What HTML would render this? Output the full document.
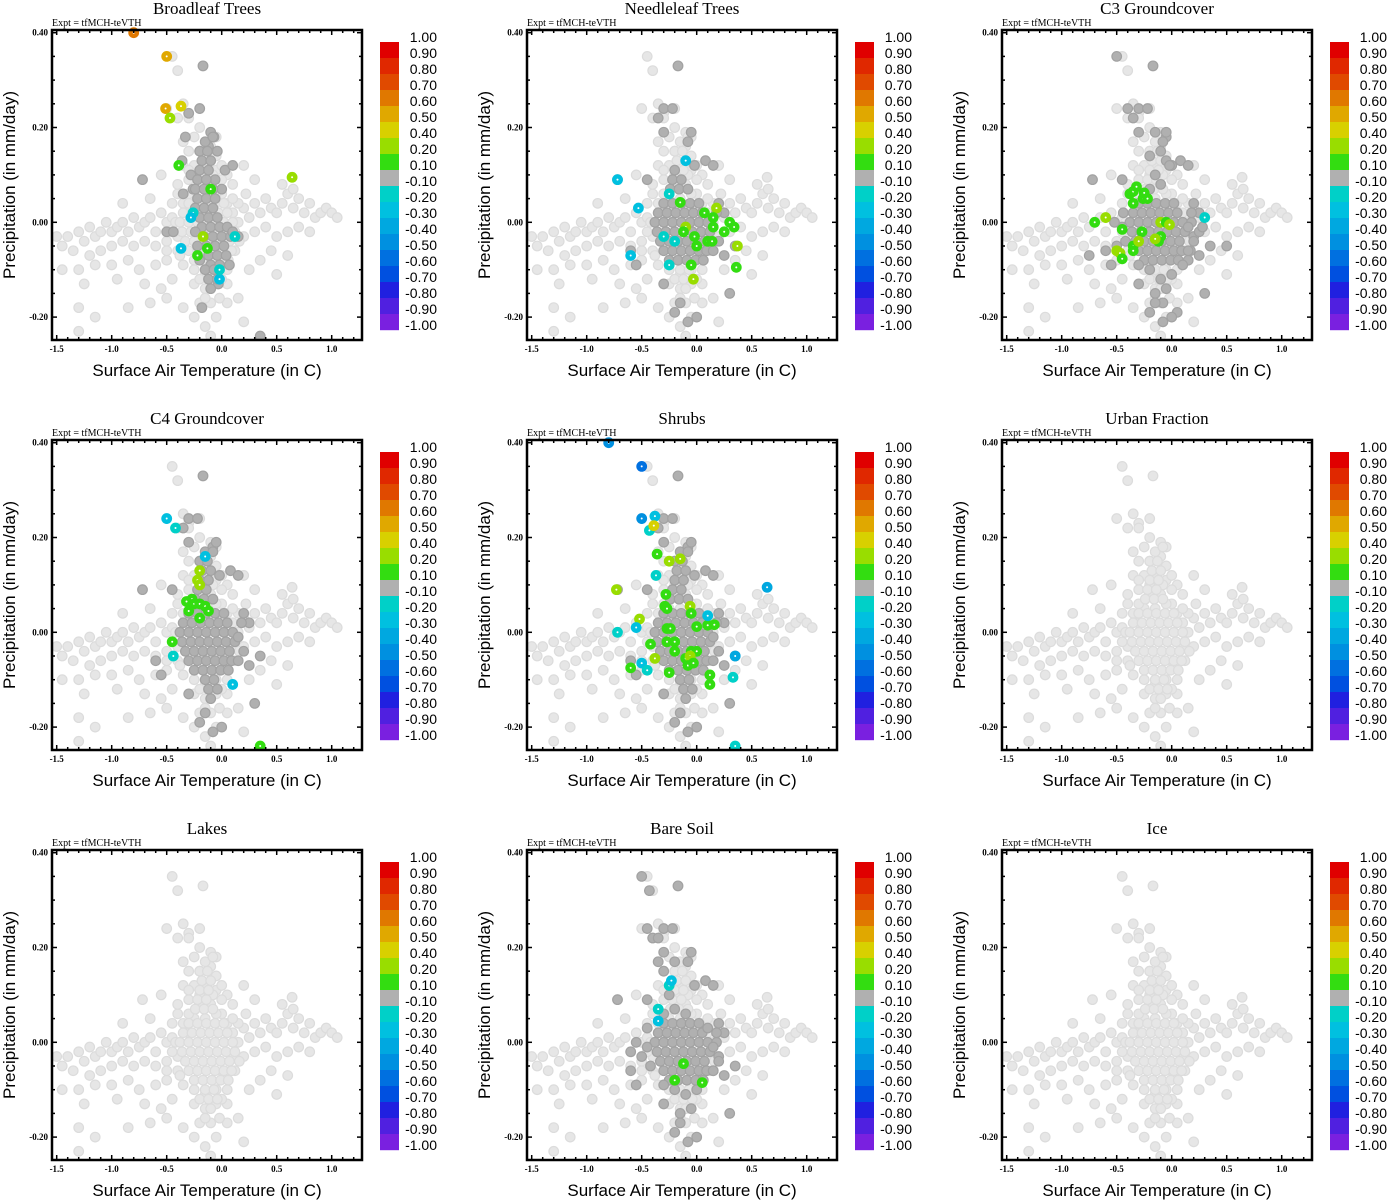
<!DOCTYPE html>
<html><head><meta charset="utf-8">
<style>
html,body{margin:0;padding:0;background:#fff;}
svg{display:block;}
.t{font-family:"Liberation Serif",serif;}
.s{font-family:"Liberation Sans",sans-serif;}
</style></head>
<body>
<svg id="chart" width="1388" height="1200" xmlns="http://www.w3.org/2000/svg"></svg>
<script>
// ---------- data ----------
const panelTitles = ["Broadleaf Trees","Needleleaf Trees","C3 Groundcover","C4 Groundcover","Shrubs","Urban Fraction","Lakes","Bare Soil","Ice"];
const xTicks = [-1.5,-1.0,-0.5,0.0,0.5,1.0];
const xTickLabels = ["-1.5","-1.0","-0.5","0.0","0.5","1.0"];
const yTicks = [-0.2,0.0,0.2,0.4];
const yTickLabels = ["-0.20","0.00","0.20","0.40"];
const cbLabels = ["1.00","0.90","0.80","0.70","0.60","0.50","0.40","0.20","0.10","-0.10","-0.20","-0.30","-0.40","-0.50","-0.60","-0.70","-0.80","-0.90","-1.00"];
const cbColors = ["#e00000","#e02800","#e04a00","#e07800","#e0a800","#d8d000","#99dd00","#33dd11","#b0b0b0","#00d0c8","#00c0e0","#00a8e0","#0090e0","#0070e0","#0050e0","#2020e0","#5020e0","#7a20e0"];
const posEdges = [1.0,0.9,0.8,0.7,0.6,0.5,0.4,0.2,0.1];
const negEdges = [-0.1,-0.2,-0.3,-0.4,-0.5,-0.6,-0.7,-0.8,-0.9,-1.0];

const cloud = [[-1.45,-0.05],[-1.4,-0.03],[-1.3,-0.02],[-1.25,-0.04],[-1.2,-0.01],[-1.15,-0.03],[-1.1,-0.02],[-1.05,0.0],[-1.0,-0.02],[-0.95,-0.01],[-0.9,0.0],[-0.85,-0.02],[-0.8,0.01],[-0.75,-0.01],[-0.7,0.0],[-0.65,0.01],[-0.6,-0.02],[-0.55,0.02],[-0.5,0.0],[-0.45,0.01],[-1.35,-0.06],[-1.2,-0.07],[-1.1,-0.06],[-1.0,-0.05],[-0.9,-0.04],[-0.8,-0.05],[-0.7,-0.04],[-0.6,-0.05],[-0.5,-0.04],[-0.4,-0.03],[-1.3,-0.1],[-1.15,-0.09],[-1.0,-0.09],[-0.85,-0.08],[-0.75,-0.1],[-0.6,-0.09],[-0.5,-0.08],[-1.25,-0.13],[-0.95,-0.12],[-0.7,-0.13],[-0.55,-0.14],[-0.45,-0.12],[-1.3,-0.18],[-1.15,-0.2],[-0.85,-0.18],[-0.65,-0.17],[-0.5,-0.16],[-1.3,-0.23],[-0.35,-0.18],[-0.25,-0.2],[-0.15,-0.22],[-0.05,-0.2],[0.05,-0.17],[0.15,-0.16],[0.2,-0.21],[-0.1,-0.24],[-1.5,-0.03],[-1.45,-0.1],[-0.9,0.04],[-0.65,0.05],[-0.55,0.1],[-0.72,0.09],[-0.4,0.06],[-0.35,0.04],[-0.3,0.02],
[0.1,0.02],[0.15,0.0],[0.2,0.03],[0.25,0.01],[0.3,0.04],[0.35,0.02],[0.4,0.05],[0.45,0.03],[0.5,0.02],[0.55,0.04],[0.6,0.06],[0.65,0.03],[0.7,0.05],[0.75,0.02],[0.8,0.04],[0.85,0.01],[0.9,0.02],[0.95,0.03],[1.0,0.02],[1.05,0.01],[0.2,-0.03],[0.3,-0.02],[0.4,-0.01],[0.5,-0.03],[0.6,-0.02],[0.7,-0.01],[0.8,-0.02],[0.55,0.08],[0.65,0.07],[0.64,0.095],[0.3,0.09],[0.2,0.12],[0.45,-0.06],[0.6,-0.07],[0.35,-0.08],[0.25,-0.1],[0.5,-0.11],[0.1,0.08],[0.05,0.1],
[-0.45,0.35],[-0.4,0.32],[-0.17,0.33],[-0.5,0.24],[-0.35,0.25],[-0.3,0.23],[-0.2,0.24],[-0.4,0.22],[-0.3,0.22],[-0.2,0.2],[-0.1,0.19],[-0.05,0.18],[-0.25,0.18],[-0.35,0.17],[-0.3,0.15],[-0.2,0.15],[-0.1,0.16],[-0.05,0.14],[-0.35,0.12],[-0.25,0.12],[-0.15,0.12],[-0.05,0.11],[0.0,0.12],[-0.4,0.08],[-0.3,0.09],[-0.2,0.08],[-0.1,0.08],[0.0,0.06],[-0.45,0.04],[-0.25,0.05],[-0.15,0.05],[-0.05,0.06],[0.05,0.04],[0.1,-0.03],[0.12,-0.06],[-0.35,-0.09],[-0.25,-0.1],[-0.15,-0.11],[-0.05,-0.1],[0.05,-0.1],[-0.25,-0.13],[-0.15,-0.14],[-0.05,-0.13],[0.05,-0.13],[-0.2,-0.17],[-0.1,-0.17],[-0.15,-0.16],[-0.02,-0.16],
[-0.45,-0.02],[-0.5,-0.06],[-0.42,0.0],[-0.4,-0.06],[0.15,0.04],[0.16,-0.04],[0.22,0.06],[0.1,0.05],[-0.3,0.06],[-0.2,0.1],[-0.08,0.1],[0.0,0.09],[-0.3,0.11],[0.02,-0.07],[-0.38,-0.07],[-0.2,-0.12],[0.0,-0.12]];

const blobCore = [[-0.3,0.04],[-0.22,0.04],[-0.14,0.04],[-0.06,0.04],[0.02,0.04],
[-0.35,0.02],[-0.27,0.02],[-0.19,0.02],[-0.11,0.02],[-0.03,0.02],[0.05,0.02],
[-0.38,0.0],[-0.3,0.0],[-0.22,0.0],[-0.14,0.0],[-0.06,0.0],[0.02,0.0],[0.1,0.0],
[-0.36,-0.02],[-0.28,-0.02],[-0.2,-0.02],[-0.12,-0.02],[-0.04,-0.02],[0.04,-0.02],[0.12,-0.02],
[-0.33,-0.04],[-0.25,-0.04],[-0.17,-0.04],[-0.09,-0.04],[-0.01,-0.04],[0.07,-0.04],
[-0.3,-0.06],[-0.22,-0.06],[-0.14,-0.06],[-0.06,-0.06],[0.02,-0.06],[0.09,-0.06],
[-0.25,-0.08],[-0.17,-0.08],[-0.09,-0.08],[-0.01,-0.08],[0.06,-0.08]];

const colV = [[-0.24,0.07],[-0.16,0.07],[-0.08,0.07],[-0.22,0.09],[-0.14,0.09],[-0.2,0.11],[-0.12,0.11],[-0.18,0.13],[-0.1,0.13],[-0.2,0.15],[-0.13,0.15],[-0.15,0.17],[-0.08,0.18],[-0.15,-0.1],[-0.07,-0.1],[-0.12,-0.12],[-0.04,-0.12],[-0.1,-0.14]];

const broadCol = [[-0.22,0.05],[-0.14,0.05],[-0.06,0.05],[-0.24,0.03],[-0.16,0.03],[-0.08,0.03],[-0.2,0.01],[-0.12,0.01],[-0.04,0.01],[-0.18,-0.01],[-0.1,-0.01],[-0.02,-0.01],[0.05,-0.01],[-0.16,-0.03],[-0.08,-0.03],[0.0,-0.03],[0.08,-0.03],[-0.14,-0.05],[-0.06,-0.05],[0.02,-0.05],[-0.12,-0.07],[-0.04,-0.07],[0.04,-0.07],[-0.1,-0.09],[-0.02,-0.09],
[-0.1,0.19],[-0.07,0.18],[-0.2,0.24],[-0.3,0.23],[-0.33,0.18],[-0.36,0.13],[-0.17,0.33],[-0.72,0.09],[-0.5,-0.02],[-0.44,-0.02],[-0.35,0.06],[0.1,-0.02],[0.15,-0.03],[-0.18,-0.18],[0.35,-0.24],[0.0,0.07],[0.07,-0.09],[-0.03,-0.13],[0.03,0.11],[0.1,0.12],
[-0.26,0.07],[-0.28,0.1],[-0.06,0.09],[-0.24,-0.02],[-0.22,-0.05],[-0.2,-0.08],[-0.12,0.16],[-0.04,0.15]];

const darkOutliers = [[-0.17,0.33],[-0.3,0.24],[-0.22,0.24],[-0.35,0.22],[-0.3,0.19],[-0.05,0.19],[-0.08,0.17],[-0.02,0.12],[0.08,0.13],[-0.72,0.09],[0.15,0.12],[-0.3,-0.13],[-0.15,-0.17],[-0.2,-0.19],[-0.08,-0.21],[0.0,-0.2],[0.3,-0.15],[-0.6,-0.06],[-0.55,-0.09],[0.35,-0.05],[0.25,-0.07],[0.2,0.04],[0.25,0.02],[-0.45,0.09],[0.15,-0.01],[0.2,-0.04],[0.15,-0.06],[0.18,0.02]];

const c3Extra = [[-0.45,-0.01],[-0.42,-0.04],[-0.44,0.02],[0.18,0.0],[0.2,-0.03],[0.17,-0.06],[0.15,-0.08],[0.25,-0.02],[0.28,-0.01],[0.1,-0.09],[-0.3,-0.09],[-0.2,-0.1],[-0.1,-0.12],[0.0,-0.11],[-0.05,-0.14],[-0.15,-0.15],[-0.08,-0.17],[-0.2,0.07],[-0.1,0.08],[-0.15,0.1],[-0.05,0.13],[-0.2,0.14],[-0.1,0.15],[-0.15,0.19],[-0.05,0.18],[-0.4,0.24],[-0.5,0.35],[0.0,0.12],[0.5,-0.05],[0.05,-0.19],[-0.75,-0.07],[-0.5,-0.05],[-0.52,0.0]];

const soilExtra = [[-0.45,-0.01],[-0.5,-0.03],[-0.55,0.0],[-0.6,-0.02],[-0.45,0.03],[-0.42,-0.05],[0.18,0.0],[0.2,-0.03],[0.15,-0.06],[0.1,0.03],[-0.3,-0.09],[-0.2,-0.1],[-0.1,-0.11],[0.0,-0.1],[-0.2,0.07],[-0.1,0.06],[-0.3,0.06],[-0.25,0.1],[-0.3,0.15],[-0.35,0.17],[-0.2,0.17],[-0.45,0.24],[-0.4,0.22],[-0.5,0.35],[-0.43,0.32],[-0.15,-0.15],[-0.05,-0.14]];

const needleColored = [[-0.1,0.13,-0.3],[-0.72,0.09,-0.3],[-0.53,0.03,-0.3],[-0.6,-0.07,-0.3],[-0.3,-0.03,-0.2],[-0.25,0.06,-0.2],[-0.25,-0.09,-0.2],[-0.2,-0.04,-0.2],[-0.15,0.042,0.1],[0.07,0.02,0.1],[0.18,0.03,0.2],[-0.02,-0.03,0.1],[-0.1,-0.01,0.2],[-0.12,-0.02,0.1],[0.15,0.01,0.1],[0.3,0.0,0.1],[0.34,-0.01,0.1],[0.15,-0.01,0.1],[0.25,-0.02,0.1],[0.1,-0.04,0.1],[0.14,-0.04,0.1],[0.0,-0.05,0.1],[0.37,-0.05,0.2],[-0.05,-0.09,0.1],[0.36,-0.095,0.1],[-0.03,-0.12,0.2]];
const broadColored = [[-0.8,0.4,0.6],[-0.5,0.35,0.5],[-0.51,0.24,0.5],[-0.37,0.245,0.4],[-0.47,0.22,0.2],[-0.39,0.12,0.1],[-0.1,0.07,0.1],[0.64,0.095,0.2],[-0.26,0.02,-0.2],[-0.28,0.01,-0.3],[-0.17,-0.03,0.2],[-0.37,-0.055,-0.3],[-0.13,-0.055,0.1],[-0.22,-0.07,0.1],[0.12,-0.03,-0.2],[-0.02,-0.12,-0.3],[-0.02,-0.1,-0.2]];
const c3Colored = [[-0.7,0.0,0.1],[-0.6,0.01,0.2],[-0.38,0.06,0.1],[-0.35,0.065,0.1],[-0.32,0.075,0.1],[-0.35,0.04,0.1],[-0.26,0.05,0.1],[-0.22,0.05,0.1],[-0.25,0.062,0.1],[-0.1,0.0,0.2],[-0.05,0.0,0.1],[-0.02,-0.005,0.2],[-0.45,-0.015,0.1],[-0.27,-0.02,0.1],[-0.1,-0.03,0.1],[-0.12,-0.04,0.1],[-0.15,-0.035,0.2],[-0.35,-0.05,0.1],[-0.35,-0.06,0.1],[-0.3,-0.04,0.2],[-0.5,-0.06,0.2],[-0.47,-0.065,0.2],[-0.45,-0.077,0.1],[0.3,0.01,-0.2]];
const c4Colored = [[-0.5,0.24,-0.3],[-0.42,0.22,-0.2],[-0.15,0.16,-0.3],[-0.2,0.13,0.2],[-0.22,0.11,0.2],[-0.2,0.1,0.2],[-0.27,0.07,0.1],[-0.32,0.065,0.1],[-0.25,0.06,0.1],[-0.2,0.06,0.1],[-0.15,0.055,0.1],[-0.3,0.045,0.1],[-0.12,0.045,0.1],[-0.2,0.03,0.1],[-0.45,-0.02,0.1],[-0.44,-0.05,-0.2],[0.1,-0.11,-0.3],[0.35,-0.24,0.1]];
const shrubColored = [[-0.5,0.24,-0.5],[-0.38,0.245,-0.3],[-0.43,0.215,-0.2],[-0.39,0.225,0.4],[-0.36,0.165,0.1],[-0.15,0.155,0.2],[-0.25,0.15,0.2],[-0.37,0.12,-0.2],[-0.73,0.09,0.2],[-0.28,0.08,0.1],[-0.29,0.055,0.1],[-0.27,0.05,0.1],[-0.06,0.055,0.2],[-0.05,0.04,0.1],[-0.52,0.028,0.2],[-0.55,0.01,-0.3],[-0.72,0.0,-0.2],[-0.27,0.008,0.1],[-0.24,0.008,0.1],[0.0,0.012,0.1],[0.1,0.015,0.1],[0.16,0.016,0.1],[-0.42,-0.025,0.1],[-0.27,-0.02,0.1],[-0.2,-0.02,0.1],[-0.2,-0.04,0.1],[-0.05,-0.04,0.1],[0.0,-0.04,0.1],[-0.1,-0.055,0.1],[-0.06,-0.05,0.2],[-0.05,-0.06,0.2],[-0.08,-0.07,0.1],[-0.38,-0.055,0.2],[-0.6,-0.075,0.1],[-0.25,-0.085,0.1],[-0.03,-0.065,0.1],[0.12,-0.09,0.1],[0.12,-0.11,0.1],[-0.5,-0.065,-0.3],[-0.45,-0.08,-0.2],[0.35,-0.05,-0.4],[0.33,-0.095,-0.2],[0.35,-0.24,-0.2],[-0.8,0.4,-0.5],[-0.5,0.35,-0.6],[0.64,0.095,-0.4],[0.1,0.035,-0.3]];
const soilColored = [[-0.25,0.12,-0.2],[-0.23,0.13,-0.3],[-0.35,0.07,-0.2],[-0.35,0.045,-0.3],[-0.12,-0.045,0.1],[-0.2,-0.08,0.1],[0.05,-0.085,0.1]];

// ---------- drawing ----------
const NS = "http://www.w3.org/2000/svg";
const svg = document.getElementById("chart");
function mk(tag, attrs, parent){const e=document.createElementNS(NS,tag);for(const k in attrs)e.setAttribute(k,attrs[k]);(parent||svg).appendChild(e);return e;}
const L=52, R=362, T=30, B=340;
function sx(x){return 221.7+110*x;}
function sy(y){return 222.3-474*y;}
function colorFor(v){
  const e=1e-9;
  if (v>-0.1+e && v<0.1-e) return cbColors[8];
  if (v>0){ for(let k=0;k<8;k++){ if(v>=posEdges[k+1]-e) return cbColors[k]; } return cbColors[7]; }
  for(let j=0;j<9;j++){ if(v>=negEdges[j+1]-e) return cbColors[9+j]; }
  return cbColors[17];
}
const panelDark = [
  broadCol.concat(colV),
  blobCore.concat(darkOutliers, colV.slice(0,6)),
  blobCore.concat(c3Extra, darkOutliers),
  blobCore.concat(colV, darkOutliers),
  blobCore.concat(colV, darkOutliers),
  [], [],
  blobCore.concat(soilExtra, darkOutliers),
  []
];
const panelColored = [broadColored, needleColored, c3Colored, c4Colored, shrubColored, [], [], soilColored, []];
const PR = 4.8;

panelTitles.forEach((title, p) => {
  const ox = (p%3)*475, oy = Math.floor(p/3)*410;
  const g = mk("g",{transform:`translate(${ox},${oy})`});
  
  
  const tt = mk("text",{x:207,y:14,"text-anchor":"middle","font-size":"17",class:"t"},g); tt.textContent=title;
  
  
  const ex = mk("text",{x:52,y:26,"font-size":"10",class:"t"},g); ex.textContent="Expt = tfMCH-teVTH";
  
  
  const cp = mk("clipPath",{id:"clip"+p},g); mk("rect",{x:L,y:T-6,width:R-L,height:B-T+6},cp);
  const pts = mk("g",{"clip-path":`url(#clip${p})`},g);
  
  
  const light = cloud.concat(blobCore, colV);
  light.forEach(d=>{ const c=mk("circle",{cx:sx(d[0]),cy:sy(d[1]),r:PR,fill:"#e6e6e6",stroke:"#dcdcdc","stroke-width":1.2},pts);
    
     });
  panelDark[p].forEach(d=>{ const c=mk("circle",{cx:sx(d[0]),cy:sy(d[1]),r:PR,fill:"#b0b0b0",stroke:"#a2a2a2","stroke-width":1.2},pts);
    
     });
  panelColored[p].forEach(d=>{ const col=colorFor(d[2]); const c=mk("circle",{cx:sx(d[0]),cy:sy(d[1]),r:PR,fill:col,stroke:col,"stroke-width":1.2},pts);
    
    
    mk("circle",{cx:sx(d[0]),cy:sy(d[1]),r:1,fill:"#fff"},pts); });
  const fr = mk("rect",{x:L,y:T,width:R-L,height:B-T,fill:"none",stroke:"#000","stroke-width":2.5},g);
  
  
  for(let v=-1.5; v<=1.25; v+=0.1){ const X=sx(v); if(X<L||X>R) continue;
    const major = Math.abs(Math.round(v*2)-v*2)<1e-6; const len=major?5:3;
    mk("line",{x1:X,y1:B,x2:X,y2:B-len,stroke:"#000","stroke-width":1.5},g);
    mk("line",{x1:X,y1:T,x2:X,y2:T+len,stroke:"#000","stroke-width":1.5},g); }
  xTicks.forEach((v,i)=>{ const t=mk("text",{x:sx(v),y:B+12,"text-anchor":"middle","font-size":"9","font-weight":"bold",class:"t"},g); t.textContent=xTickLabels[i];
    
     });
  for(let v=-0.25; v<=0.41; v+=0.05){ const Y=sy(v); if(Y<T-0.5||Y>B) continue;
    const major = Math.abs(Math.round(v*5)-v*5)<1e-6; const len=major?5:3;
    mk("line",{x1:L,y1:Y,x2:L+len,y2:Y,stroke:"#000","stroke-width":1.5},g);
    mk("line",{x1:R,y1:Y,x2:R-len,y2:Y,stroke:"#000","stroke-width":1.5},g); }
  yTicks.forEach((v,i)=>{ const t=mk("text",{x:L-4,y:sy(v)+3,"text-anchor":"end","font-size":"9","font-weight":"bold",class:"t"},g); t.textContent=yTickLabels[i];
    
     });
  const xl = mk("text",{x:207,y:376,"text-anchor":"middle","font-size":"17",class:"s"},g); xl.textContent="Surface Air Temperature (in C)";
  
  
  const yl = mk("text",{x:0,y:0,"text-anchor":"middle","font-size":"17",class:"s",transform:"translate(15,185) rotate(-90)"},g); yl.textContent="Precipitation (in mm/day)";
  
  
  const cb = mk("g",{},g);
  
  
  cbColors.forEach((col,i)=>{
    const r = mk("rect",{x:380,y:42+16*i,width:19,height:16.2,fill:col},cb);
    
    
  });
  cbLabels.forEach((s,i)=>{ const t=mk("text",{x:437,y:42+16*i,"text-anchor":"end","font-size":"14",class:"s"},cb); t.textContent=s;
    
     });
});
</script>
</body></html>
